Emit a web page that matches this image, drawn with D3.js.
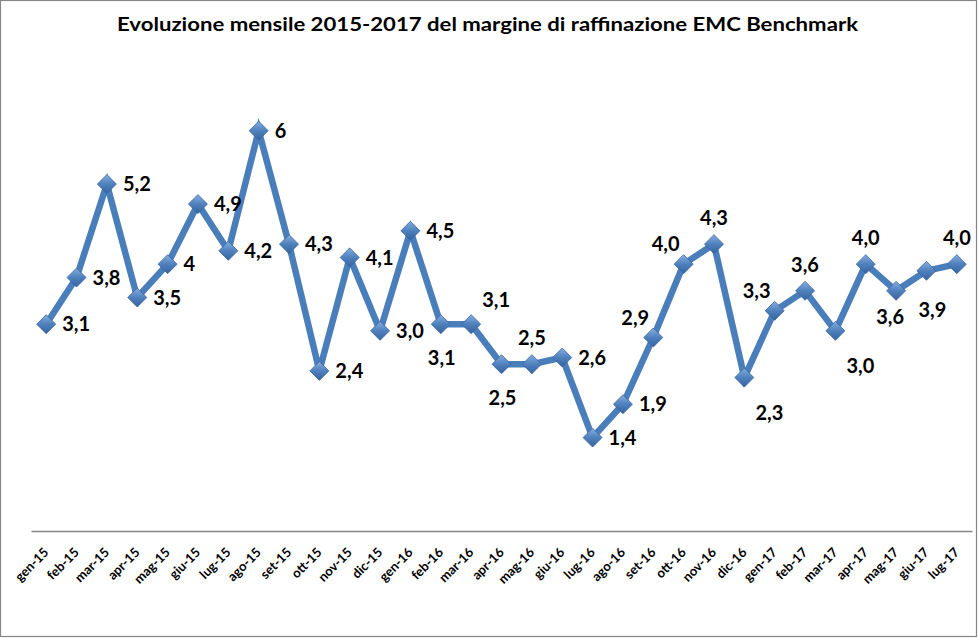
<!DOCTYPE html>
<html>
<head>
<meta charset="utf-8">
<script src="https://cdn.jsdelivr.net/npm/d3@7"></script>
<style>
  html, body { margin: 0; padding: 0; background: #fff; }
  svg { display: block; font-family: Lato, "Noto Sans", sans-serif; }
</style>
</head>
<body>
<div id="chart"></div>
<script>
// Margine di raffinazione EMC Benchmark, $/barile, gen-15 .. lug-17
const months = [
  'gen-15', 'feb-15', 'mar-15', 'apr-15', 'mag-15', 'giu-15', 'lug-15', 'ago-15', 'set-15', 'ott-15', 'nov-15', 'dic-15',
  'gen-16', 'feb-16', 'mar-16', 'apr-16', 'mag-16', 'giu-16', 'lug-16', 'ago-16', 'set-16', 'ott-16', 'nov-16', 'dic-16',
  'gen-17', 'feb-17', 'mar-17', 'apr-17', 'mag-17', 'giu-17', 'lug-17'
];
const margins = [
  3.1, 3.8, 5.2, 3.5, 4.0, 4.9, 4.2, 6.0, 4.3, 2.4, 4.1, 3.0,
  4.5, 3.1, 3.1, 2.5, 2.5, 2.6, 1.4, 1.9, 2.9, 4.0, 4.3, 2.3,
  3.3, 3.6, 3.0, 4.0, 3.6, 3.9, 4.0
];
// labels as written on the chart (some without decimals)
const valueLabels = [
  '3,1', '3,8', '5,2', '3,5', '4', '4,9', '4,2', '6', '4,3', '2,4', '4,1', '3,0',
  '4,5', '3,1', '3,1', '2,5', '2,5', '2,6', '1,4', '1,9', '2,9', '4,0', '4,3', '2,3',
  '3,3', '3,6', '3,0', '4,0', '3,6', '3,9', '4,0'
];
// where each data label sits relative to its marker
const labelSide = [
  'r', 'r', 'r', 'r', 'r', 'r', 'r', 'r', 'r', 'r', 'r', 'r',
  'r', 'b', 'ar', 'b', 'a', 'r', 'r', 'r', 'al', 'al', 'a', 'br',
  'al', 'a', 'br', 'a', 'bs', 'bb', 'a'
];
const yDomain = [0, 7];

const W = 978, H = 639;
const plot = { left: 31, right: 972, top: 64, bottom: 531 };

const svg = d3.select('#chart').append('svg')
  .attr('width', W)
  .attr('height', H);

const defs = svg.append('defs');
const grad = defs.append('linearGradient')
  .attr('id', 'markerFill')
  .attr('x1', 0).attr('y1', 0).attr('x2', 0).attr('y2', 1);
grad.append('stop').attr('offset', '0%').attr('stop-color', '#86aee0');
grad.append('stop').attr('offset', '50%').attr('stop-color', '#4f81bd');
grad.append('stop').attr('offset', '100%').attr('stop-color', '#3663a0');

// chart frame
svg.append('rect')
  .attr('x', 0.5).attr('y', 0.5)
  .attr('width', 976).attr('height', 636)
  .attr('fill', '#fff')
  .attr('stroke', '#868686')
  .attr('stroke-width', 1.2);

svg.append('text')
  .attr('x', 487.5)
  .attr('y', 31)
  .attr('text-anchor', 'middle')
  .attr('font-size', 18)
  .attr('font-weight', 700)
  .attr('textLength', 741)
  .attr('lengthAdjust', 'spacingAndGlyphs')
  .attr('fill', '#000')
  .text('Evoluzione mensile 2015-2017  del margine di raffinazione EMC Benchmark');

const x = d3.scaleBand().domain(months).range([plot.left, plot.right]).padding(0);
const y = d3.scaleLinear().domain(yDomain).range([plot.bottom, plot.top]);
const cx = (m) => x(m) + x.bandwidth() / 2;

// category axis
const axis = svg.append('g')
  .attr('transform', `translate(0,${plot.bottom})`)
  .call(d3.axisBottom(x).tickSize(0).tickSizeOuter(0));
axis.select('.domain').attr('stroke', '#868686').attr('stroke-width', 1.3);
axis.selectAll('.tick text')
  .attr('x', 0).attr('y', 0).attr('dy', '0.35em')
  .attr('text-anchor', 'end')
  .attr('transform', 'translate(0,19) rotate(-45)')
  .attr('font-family', 'Lato, sans-serif')
  .attr('font-size', 13)
  .attr('font-weight', 700)
  .attr('fill', '#000');

const data = months.map((m, i) => ({ m, v: margins[i], label: valueLabels[i], side: labelSide[i] }));

const line = d3.line().x((d) => cx(d.m)).y((d) => y(d.v));
svg.append('path')
  .datum(data)
  .attr('d', line)
  .attr('fill', 'none')
  .attr('stroke', '#4a7ebb')
  .attr('stroke-width', 6.5)
  .attr('stroke-linejoin', 'miter');

const diamond = 'M0,-9.5L9.5,0L0,9.5L-9.5,0Z';
svg.append('g').selectAll('path')
  .data(data)
  .join('path')
  .attr('d', diamond)
  .attr('transform', (d) => `translate(${cx(d.m)},${y(d.v)})`)
  .attr('fill', 'url(#markerFill)')
  .attr('stroke', '#3a64a0')
  .attr('stroke-width', 0.8);

// label offsets: [dx, dy, anchor]
const sideOffset = {
  r: [16, 0, 'start'],
  a: [0, -26, 'middle'],
  b: [1, 34, 'middle'],
  bs: [-6, 26, 'middle'],
  bb: [6, 39, 'middle'],
  al: [-18, -20, 'middle'],
  ar: [25, -24, 'middle'],
  br: [25, 35, 'middle']
};
svg.append('g').selectAll('text')
  .data(data)
  .join('text')
  .attr('x', (d) => cx(d.m) + sideOffset[d.side][0])
  .attr('y', (d) => y(d.v) + sideOffset[d.side][1])
  .attr('dy', '0.36em')
  .attr('text-anchor', (d) => sideOffset[d.side][2])
  .attr('font-size', 20)
  .attr('font-weight', 700)
  .attr('fill', '#000')
  .text((d) => d.label);
</script>
</body>
</html>
